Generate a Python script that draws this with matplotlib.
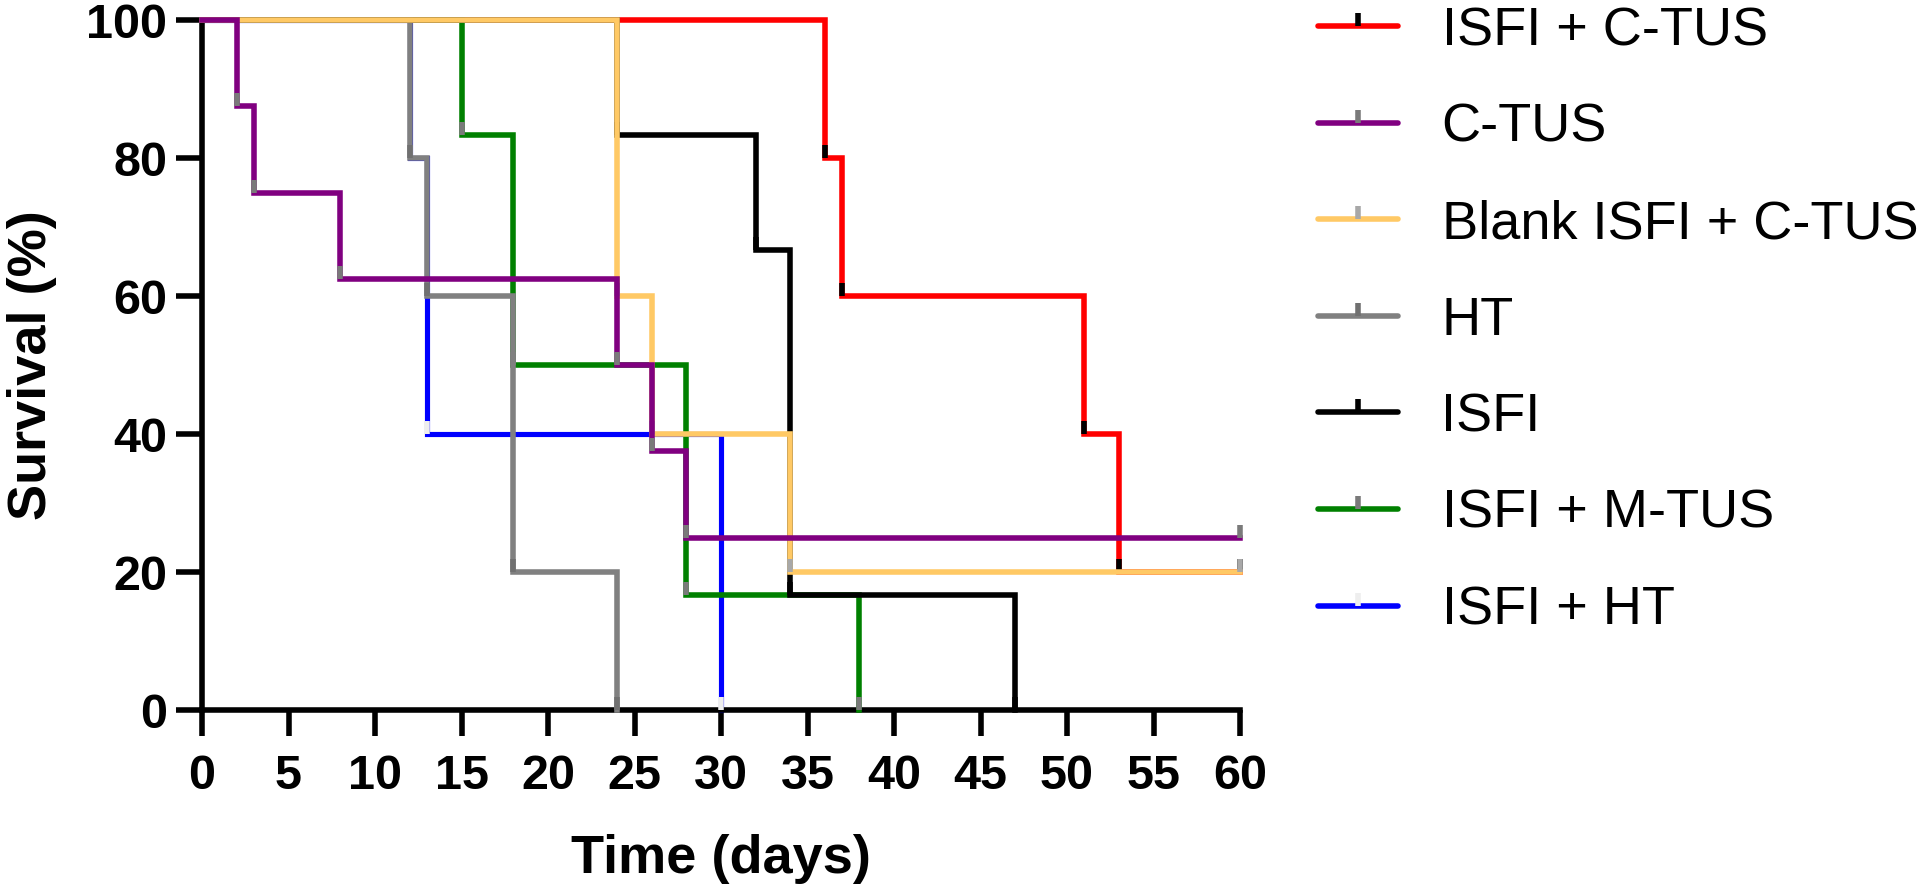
import matplotlib
matplotlib.use("Agg")
import matplotlib.pyplot as plt
from matplotlib.lines import Line2D

plt.rcParams['font.family'] = ['Liberation Sans', 'DejaVu Sans']

# Kaplan-Meier steps: time of each event (days) and survival (%) after it.
# first point is the start (0, 100); a trailing point at 60 is a censored end
red_t = [0, 36, 37, 51, 53, 60]
red_s = [100, 80, 60, 40, 20, 20]
purple_t = [0, 2, 3, 8, 24, 26, 28, 60]
purple_s = [100, 87.5, 75, 62.5, 50, 37.5, 25, 25]
yellow_t = [0, 24, 26, 34, 60]
yellow_s = [100, 60, 40, 20, 20]
gray_t = [0, 12, 13, 18, 24]
gray_s = [100, 80, 60, 20, 0]
black_t = [0, 24, 32, 34, 47]
black_s = [100, 83.33, 66.67, 16.67, 0]
green_t = [0, 15, 18, 28, 38]
green_s = [100, 83.33, 50, 16.67, 0]
blue_t = [0, 12, 13, 30]
blue_s = [100, 80, 40, 0]

labels = ['ISFI + C-TUS', 'C-TUS', 'Blank ISFI + C-TUS', 'HT', 'ISFI',
          'ISFI + M-TUS', 'ISFI + HT']
series = [(red_t, red_s), (purple_t, purple_s), (yellow_t, yellow_s),
          (gray_t, gray_s), (black_t, black_s), (green_t, green_s),
          (blue_t, blue_s)]
line_colors = ['#ff0000', '#800080', '#ffc965', '#808080', '#000000',
               '#008000', '#0000ff']
tick_colors = ['#000000', '#7a7a7a', '#a8a8a8', '#707070', '#000000',
               '#7a7a7a', '#eeeeee']
zorders = [2, 7, 6, 4, 5, 3, 2.5]
widths = [4, 4, 4, 4, 4, 4, 3.7]

fig = plt.figure(figsize=(19.2, 8.93), dpi=100)
ax = fig.add_axes([202 / 1920, 1 - 710 / 893, 1038 / 1920, 690 / 893])

handles = []
for (t, s), lab, lc, tc, z, w in zip(series, labels, line_colors, tick_colors,
                                      zorders, widths):
    ax.plot(t, s, drawstyle='steps-post', color=lc, lw=w, zorder=z,
            solid_joinstyle='miter', clip_on=False)
    ax.plot(t[1:], s[1:], linestyle='none', marker=2, ms=9.5, mew=4,
            color=tc, zorder=z + 0.1, clip_on=False)
    handles.append(Line2D([], [], color=lc, lw=4, marker=2, ms=9.5, mew=4,
                          markeredgecolor=tc, solid_capstyle='round'))

ax.set_xlim(0, 60)
ax.set_ylim(0, 100)
ax.set_xticks(range(0, 61, 5))
ax.set_yticks(range(0, 101, 20))
for sp in ['top', 'right']:
    ax.spines[sp].set_visible(False)
for sp in ['left', 'bottom']:
    ax.spines[sp].set_linewidth(4)
ax.tick_params(axis='both', length=19, width=4, labelsize=35)
ax.tick_params(axis='x', pad=13)
ax.tick_params(axis='y', pad=6)
for lbl in ax.get_xticklabels() + ax.get_yticklabels():
    lbl.set_fontweight('bold')

ax.set_xlabel('Time (days)', fontsize=39, fontweight='bold')
ax.set_ylabel('Survival (%)', fontsize=39, fontweight='bold')
ax.xaxis.set_label_coords(0.5, -0.18)
ax.yaxis.set_label_coords(-0.14, 0.5)

leg = fig.legend(handles, labels, loc='upper left',
                 bbox_to_anchor=(1318 / 1920, 1 - 6 / 893), frameon=False,
                 fontsize=39, handlelength=1.48, handletextpad=0.8,
                 labelspacing=0.86, borderpad=0, borderaxespad=0)

fig.savefig('out.png', dpi=100)
